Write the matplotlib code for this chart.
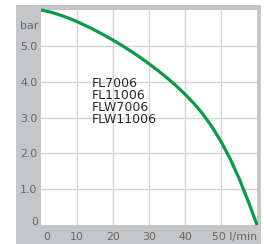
import matplotlib
matplotlib.use("Agg")
import matplotlib.pyplot as plt
from matplotlib.patches import Rectangle

# Kennlinie (Förderstrom l/min -> Druck bar)
flow = [0, 2.5, 5, 7.5, 10, 12.5, 15, 17.5, 20, 22.5, 25, 27.5, 30,
        32.5, 35, 37.5, 40, 42.5, 45, 47.5, 50, 52.5, 55, 57.5, 60]
pressure = [6.0, 5.945, 5.87, 5.78, 5.675, 5.56, 5.435, 5.30, 5.16, 5.01, 4.85, 4.68, 4.50,
            4.31, 4.105, 3.89, 3.65, 3.39, 3.09, 2.74, 2.33, 1.855, 1.305, 0.68, 0.0]

x_ticks = [10, 20, 30, 40, 50]
x_labels = ["10", "20", "30", "40", ""]
y_ticks = [1, 2, 3, 4, 5]
y_labels = ["1.0", "2.0", "3.0", "4.0", "5.0"]
models = ["FL7006", "FL11006", "FLW7006", "FLW11006"]

band = "#c5c6c8"
grid = "#d4d4d4"
label_col = "#666666"
green = "#0a9a48"
fs = 7.9

fig = plt.figure(figsize=(2.64, 2.44), dpi=100)

# grauer Rahmen hinter der Zeichenfläche
fig.patches.append(Rectangle((16 / 264, 0), 245 / 264, 239 / 244,
                             transform=fig.transFigure, facecolor=band,
                             edgecolor="none", zorder=-1))

ax = fig.add_axes([41 / 264, 19 / 244, 216 / 264, 215 / 244])
ax.set_zorder(1)
ax.set_facecolor("white")
ax.set_xlim(0, 60)
ax.set_ylim(0, 6)

ax.set_xticks(x_ticks)
ax.set_xticklabels(x_labels)
ax.set_yticks(y_ticks)
ax.set_yticklabels(y_labels)
ax.tick_params(length=0, labelsize=fs, labelcolor=label_col)
ax.tick_params(axis="x", pad=5)
ax.tick_params(axis="y", pad=2.5)
ax.grid(True, color=grid, linewidth=1.0)
ax.set_axisbelow(True)
for s in ax.spines.values():
    s.set_visible(False)

# Beschriftungen, die nicht auf einem Tick sitzen
ax.text(1.6, -0.33, "0", ha="center", va="center", fontsize=fs, color=label_col, clip_on=False)
ax.text(47.4, -0.33, "50 l/min", ha="left", va="center", fontsize=fs, color=label_col, clip_on=False)
ax.text(-0.9, 0.08, "0", ha="right", va="center", fontsize=fs, color=label_col, clip_on=False)
ax.text(-0.8, 5.55, "bar", ha="right", va="center", fontsize=fs, color=label_col, clip_on=False)

ax.plot(flow, pressure, color=green, linewidth=2.3, clip_on=False, zorder=5,
        solid_capstyle="butt", solid_joinstyle="round")

ax.text(14.0, 4.12, "\n".join(models), ha="left", va="top", fontsize=9,
        color="#2a2a2a", linespacing=0.88)

plt.savefig("out.png", dpi=100)
